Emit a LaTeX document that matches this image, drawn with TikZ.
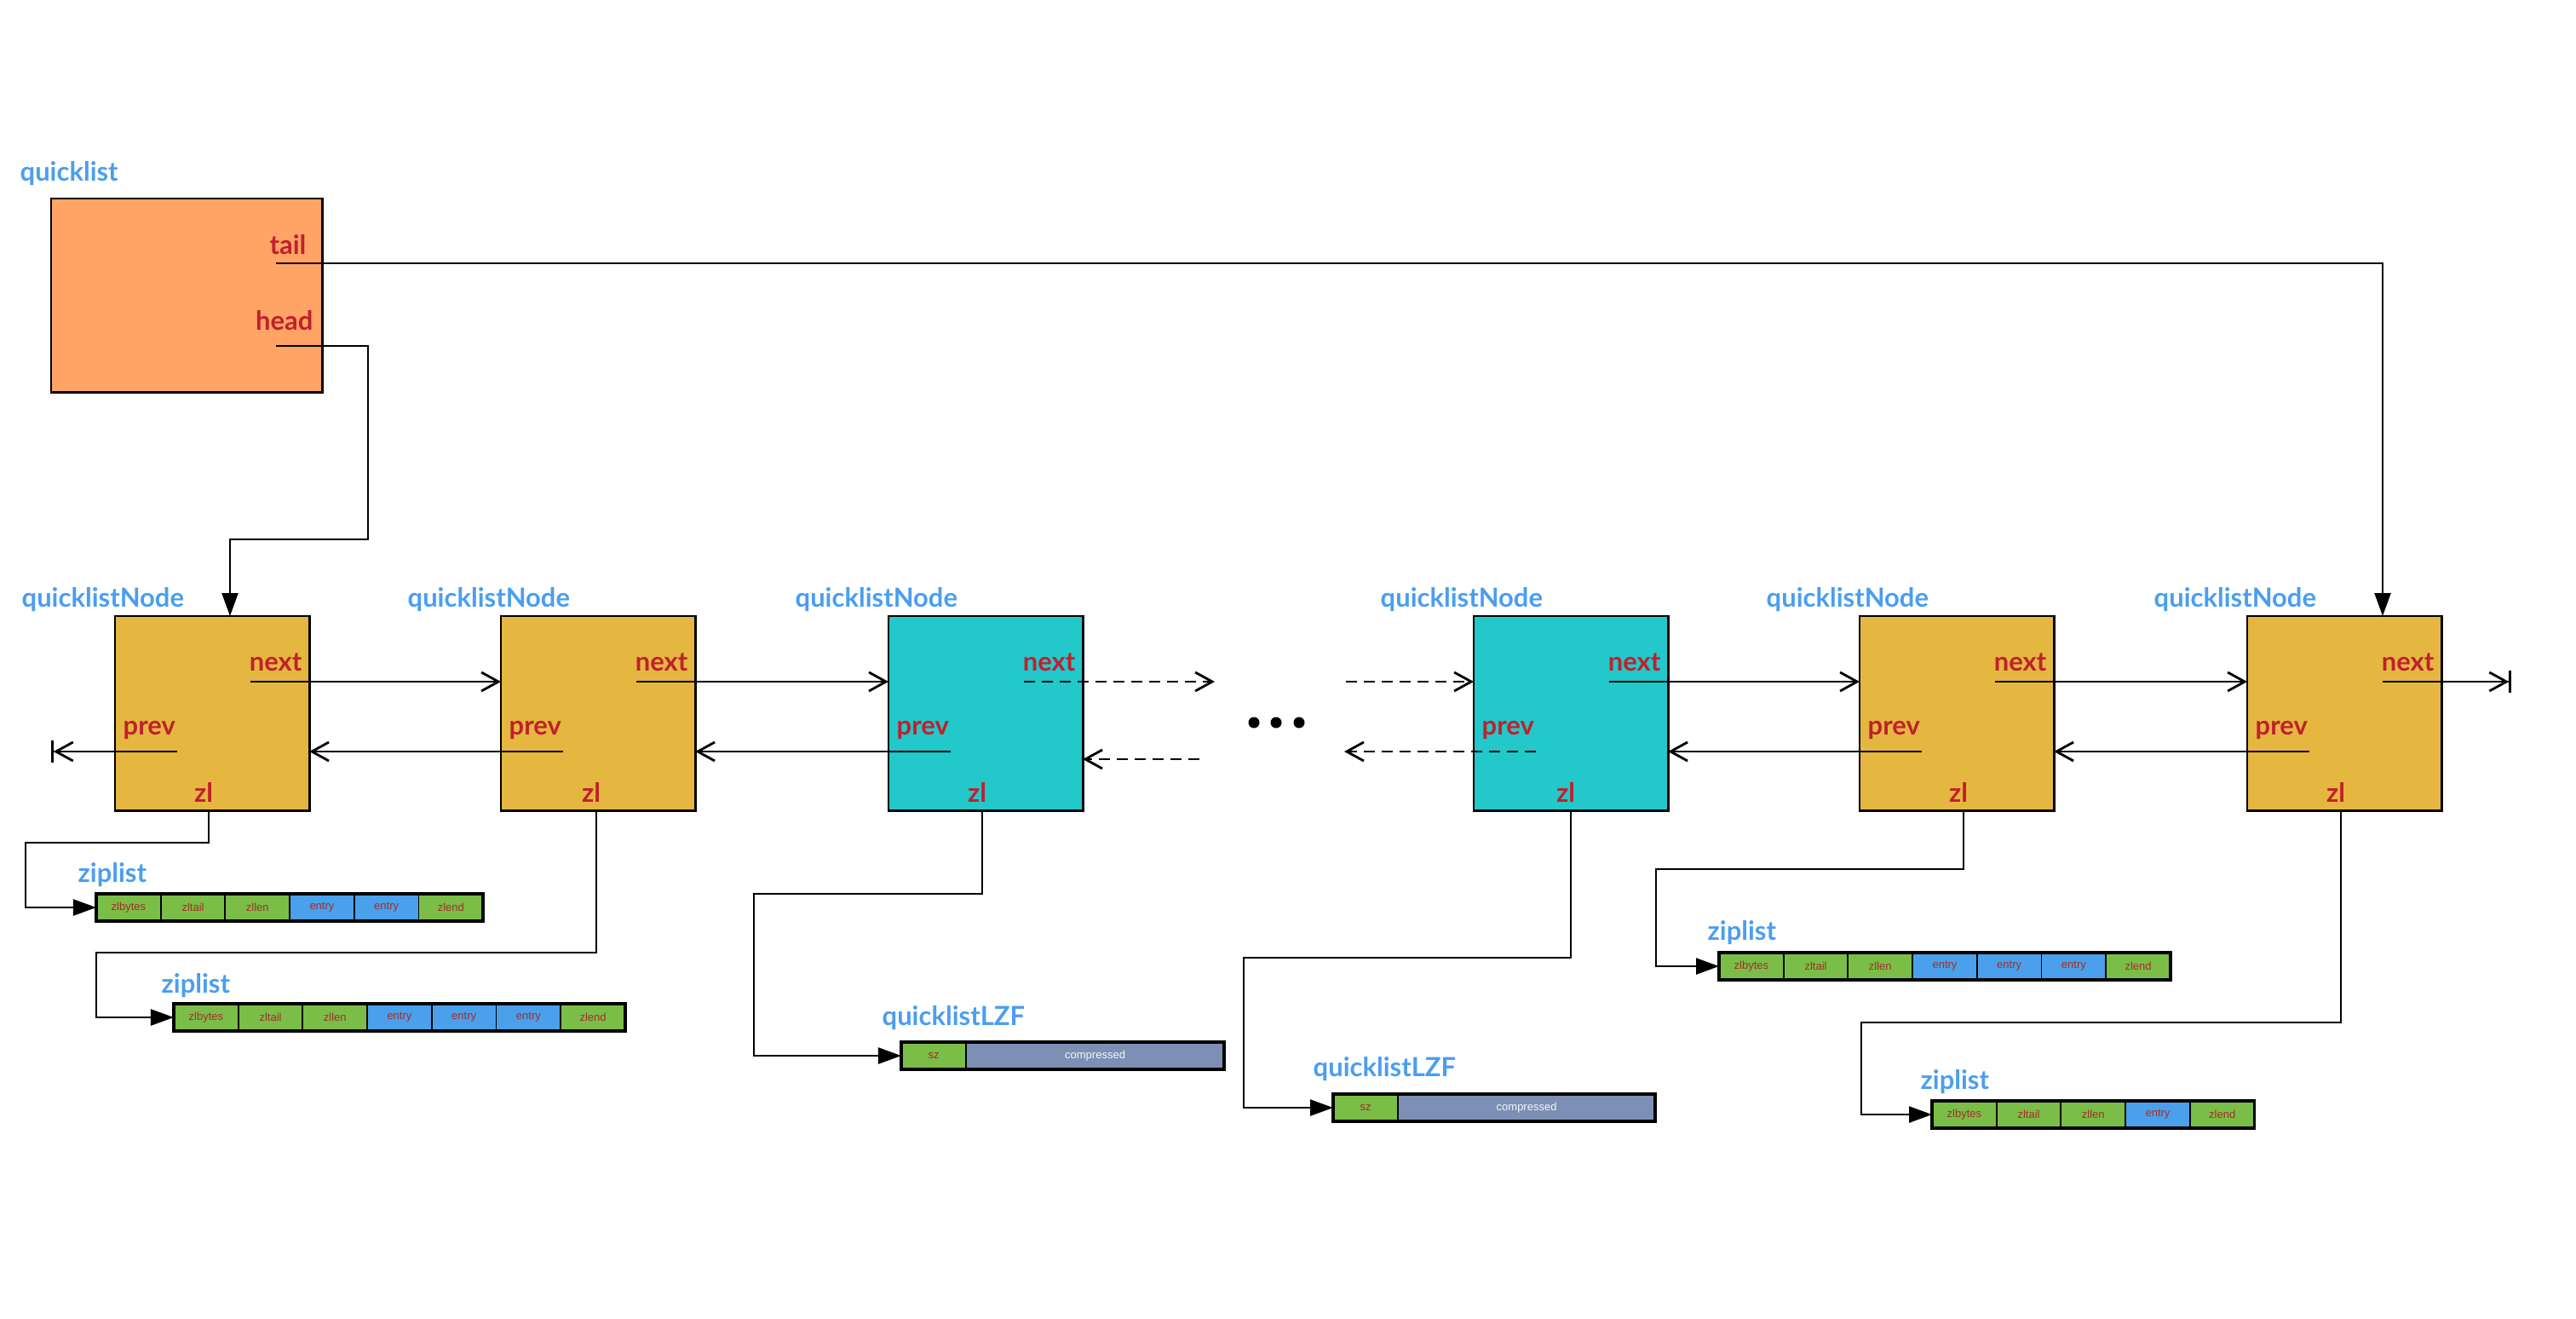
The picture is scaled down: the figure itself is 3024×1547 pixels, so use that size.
\documentclass[tikz,border=0pt]{standalone}
\usepackage{fontspec}
\setmainfont{Lato}
\newfontfamily\cellfont{Liberation Sans}
\usetikzlibrary{arrows.meta,calc}
\definecolor{qlorange}{RGB}{255,164,100}
\definecolor{nodeyellow}{RGB}{229,183,64}
\definecolor{nodecyan}{RGB}{34,200,202}
\definecolor{zlgreen}{RGB}{122,190,72}
\definecolor{zlblue}{RGB}{74,160,234}
\definecolor{lzfgray}{RGB}{125,143,180}
\definecolor{titleblue}{RGB}{74,158,240}
\definecolor{fieldred}{RGB}{192,32,44}
\definecolor{celltext}{RGB}{165,45,40}
\newcommand{\zlrow}[5]{%
  \foreach \lab/\col [count=\i from 0] in {#5} {
    \node[cell, fill=\col] (#1-\i) at (#2+\i*75.7,#3) {\lab};
  }
  \draw[line width=1.1pt] (#2,#3) rectangle (#2+#4*75.7,#3+32);
}
\begin{document}
\begin{tikzpicture}[x=0.01cm,y=-0.01cm,
  qnode/.style={draw, line width=0.8pt, anchor=north west, inner sep=0pt, outer sep=0pt,
    minimum width=2.28cm, minimum height=2.28cm},
  redlab/.style={text=fieldred, font=\fontsize{8.8pt}{10pt}\selectfont\bfseries, inner sep=0pt},
  bluelab/.style={text=titleblue, font=\fontsize{8.8pt}{10pt}\selectfont\bfseries, inner sep=0pt, anchor=base west},
  cell/.style={draw, line width=0.55pt, anchor=north west, minimum width=0.757cm, minimum height=0.32cm,
    inner sep=0pt, outer sep=0pt, font=\cellfont\fontsize{3.7pt}{4pt}\selectfont, text=celltext},
  ptr/.style={line width=0.8pt, -{Straight Barb[length=0.2cm,width=0.22cm]}},
  ptrnull/.style={line width=0.8pt, -{Straight Barb[length=0.2cm,width=0.22cm]Bar[width=0.26cm]}},
  dashline/.style={dash pattern=on 0.13cm off 0.08cm},
  fillarr/.style={line width=0.65pt, -{Triangle[length=0.27cm,width=0.19cm]}},
  dotc/.style={circle, fill=black, inner sep=0pt, minimum size=0.13cm}
]
\path[use as bounding box] (0,0) rectangle (3024,1547);

% quicklist
\node[bluelab] (qltitle) at (23,212) {quicklist};
\node[qnode, fill=qlorange, minimum width=3.18cm, minimum height=2.27cm] (ql) at (60,233) {};
\node[redlab, anchor=base east] (taillab) at (360,298) {tail};
\node[redlab, anchor=base east] (headlab) at (368,387) {head};
\coordinate (tailS) at (324,309);
\coordinate (headS) at (324,406);
\coordinate (hturn) at (432,633);

% quicklist nodes
\foreach \nm/\xl/\zx/\col in {n1/135/245/nodeyellow, n2/588/700/nodeyellow, n3/1043/1153/nodecyan,
    n4/1730/1844/nodecyan, n5/2183/2305/nodeyellow, n6/2638/2748/nodeyellow} {
  \node[qnode, fill=\col] (\nm) at (\xl,723) {};
  \node[bluelab] (\nm-title) at (\xl-110,712) {quicklistNode};
  \node[redlab, anchor=base east] (\nm-nextlab) at (\xl+220,787) {next};
  \node[redlab, anchor=base west] (\nm-prevlab) at (\xl+9,862) {prev};
  \node[redlab, anchor=base] (\nm-zllab) at (\zx-6,941) {zl};
  \coordinate (\nm-nexts) at (\xl+159,800);
  \coordinate (\nm-prevs) at (\xl+73,882);
  \coordinate (\nm-zl) at (\zx,951);
}
\coordinate (n1in) at (270,723);
\coordinate (n6in) at (2797,723);

% dots
\node[dotc] (d1) at (1472,848) {};
\node[dotc] (d2) at (1498,848) {};
\node[dotc] (d3) at (1525,848) {};

% ziplists and LZF
\node[bluelab] (z1t) at (91,1035) {ziplist};
\zlrow{z1}{113}{1049}{6}{zlbytes/zlgreen, zltail/zlgreen, zllen/zlgreen, entry/zlblue, entry/zlblue, zlend/zlgreen}
\node[bluelab] (z2t) at (189,1165) {ziplist};
\zlrow{z2}{204}{1178}{7}{zlbytes/zlgreen, zltail/zlgreen, zllen/zlgreen, entry/zlblue, entry/zlblue, entry/zlblue, zlend/zlgreen}
\node[bluelab] (z3t) at (2004,1103) {ziplist};
\zlrow{z3}{2018}{1118}{7}{zlbytes/zlgreen, zltail/zlgreen, zllen/zlgreen, entry/zlblue, entry/zlblue, entry/zlblue, zlend/zlgreen}
\node[bluelab] (z4t) at (2254,1278) {ziplist};
\zlrow{z4}{2268}{1292}{5}{zlbytes/zlgreen, zltail/zlgreen, zllen/zlgreen, entry/zlblue, zlend/zlgreen}

\node[bluelab] (l1t) at (1035,1203) {quicklistLZF};
\node[cell, fill=zlgreen, minimum width=0.76cm] (l1-0) at (1058,1223) {sz};
\node[cell, fill=lzfgray, minimum width=3.03cm, text=white!92!lzfgray] (l1-1) at (1134,1223) {compressed};
\draw[line width=1.1pt] (l1-0.north west) rectangle (l1-1.south east);
\node[bluelab] (l2t) at (1541,1263) {quicklistLZF};
\node[cell, fill=zlgreen, minimum width=0.76cm] (l2-0) at (1565,1284) {sz};
\node[cell, fill=lzfgray, minimum width=3.02cm, text=white!92!lzfgray] (l2-1) at (1641,1284) {compressed};
\draw[line width=1.1pt] (l2-0.north west) rectangle (l2-1.south east);

% head / tail
\draw[fillarr] (headS) -| (hturn) -| (n1in);
\draw[fillarr] (tailS) -| (n6in);

% next pointers
\coordinate (gap1) at (1426,800);
\coordinate (gap2) at (1580,800);
\coordinate (nullR) at (2948,800);
\draw[ptr] (n1-nexts) -- (n1-nexts -| n2.west);
\draw[ptr] (n2-nexts) -- (n2-nexts -| n3.west);
\draw[ptr, dashline] (n3-nexts) -- (gap1);
\draw[ptr, dashline] (gap2) -- (gap2 -| n4.west);
\draw[ptr] (n4-nexts) -- (n4-nexts -| n5.west);
\draw[ptr] (n5-nexts) -- (n5-nexts -| n6.west);
\draw[ptrnull] (n6-nexts) -- (nullR);

% prev pointers
\coordinate (nullL) at (60,882);
\coordinate (gap3) at (1408,891);
\coordinate (gap4) at (1578,882);
\draw[ptrnull] (n1-prevs) -- (nullL);
\draw[ptr] (n2-prevs) -- (n2-prevs -| n1.east);
\draw[ptr] (n3-prevs) -- (n3-prevs -| n2.east);
\draw[ptr, dashline] (gap3) -- (gap3 -| n3.east);
\draw[ptr, dashline] (n4-prevs) -- (gap4);
\draw[ptr] (n5-prevs) -- (n5-prevs -| n4.east);
\draw[ptr] (n6-prevs) -- (n6-prevs -| n5.east);

% zl pointers
\coordinate (c1) at (30,989);
\coordinate (c2) at (113,1118);
\coordinate (c3) at (885,1049);
\coordinate (c4) at (1460,1124);
\coordinate (c5) at (1944,1020);
\coordinate (c6) at (2185,1200);
\draw[fillarr] (n1-zl) |- (c1) |- (z1-0.west);
\draw[fillarr] (n2-zl) |- (c2) |- (z2-0.west);
\draw[fillarr] (n3-zl) |- (c3) |- (l1-0.west);
\draw[fillarr] (n4-zl) |- (c4) |- (l2-0.west);
\draw[fillarr] (n5-zl) |- (c5) |- (z3-0.west);
\draw[fillarr] (n6-zl) |- (c6) |- (z4-0.west);
\end{tikzpicture}
\end{document}
